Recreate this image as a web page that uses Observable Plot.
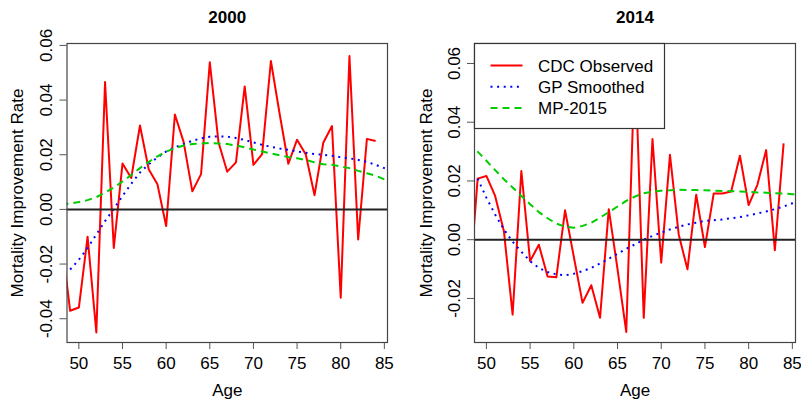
<!DOCTYPE html>
<html>
<head>
<meta charset="utf-8">
<script src="https://cdn.jsdelivr.net/npm/d3@7"></script>
<script src="https://cdn.jsdelivr.net/npm/@observablehq/plot@0.6"></script>
<style>
  body { margin: 0; background: #fff; }
  #chart { position: relative; width: 801px; height: 400px; font-family: "Liberation Sans", Arial, sans-serif; }
  #chart > svg { position: absolute; top: 0; }
</style>
</head>
<body>
<div id="chart"></div>
<script>
// Ages covered by each series
const agesObserved = [48, 49, 50, 51, 52, 53, 54, 55, 56, 57, 58, 59, 60, 61, 62, 63, 64, 65, 66,
  67, 68, 69, 70, 71, 72, 73, 74, 75, 76, 77, 78, 79, 80, 81, 82, 83, 84];
const agesSmoothed = [49, 50, 51, 52, 53, 54, 55, 56, 57, 58, 59, 60, 61, 62, 63, 64, 65, 66, 67,
  68, 69, 70, 71, 72, 73, 74, 75, 76, 77, 78, 79, 80, 81, 82, 83, 84, 85, 86];
const agesMP = [48, 49, 50, 51, 52, 53, 54, 55, 56, 57, 58, 59, 60, 61, 62, 63, 64, 65, 66, 67,
  68, 69, 70, 71, 72, 73, 74, 75, 76, 77, 78, 79, 80, 81, 82, 83, 84, 85, 86];

// Year 2000 mortality improvement rates
const observed2000 = [-0.0110, -0.0371, -0.0359, -0.0100, -0.0450, 0.0466, -0.0141, 0.0168, 0.0115,
  0.0307, 0.0147, 0.0092, -0.0061, 0.0347, 0.0247, 0.0066, 0.0129, 0.0538, 0.0245, 0.0138, 0.0172,
  0.0450, 0.0163, 0.0202, 0.0543, 0.0350, 0.0167, 0.0255, 0.0201, 0.0052, 0.0244, 0.0305, -0.0323,
  0.0561, -0.0110, 0.0258, 0.0250];
const smoothed2000 = [-0.0220, -0.0184, -0.0141, -0.0092, -0.0043, 0.0002, 0.0049, 0.0094, 0.0135,
  0.0165, 0.0190, 0.0212, 0.0227, 0.0239, 0.0251, 0.0260, 0.0266, 0.0267, 0.0266, 0.0261, 0.0254,
  0.0245, 0.0236, 0.0229, 0.0223, 0.0218, 0.0212, 0.0207, 0.0202, 0.0200, 0.0196, 0.0191, 0.0187,
  0.0181, 0.0174, 0.0163, 0.0151, 0.0138];
const mp2000 = [0.0020, 0.0021, 0.0027, 0.0034, 0.0045, 0.0061, 0.0080, 0.0102, 0.0126, 0.0151,
  0.0174, 0.0194, 0.0211, 0.0224, 0.0234, 0.0239, 0.0241, 0.0243, 0.0241, 0.0239, 0.0234, 0.0227,
  0.0219, 0.0212, 0.0205, 0.0198, 0.0192, 0.0187, 0.0181, 0.0172, 0.0165, 0.0163, 0.0157, 0.0151,
  0.0141, 0.0132, 0.0123, 0.0110, 0.0098];

// Year 2014 mortality improvement rates
const observed2014 = [-0.0180, 0.0208, 0.0217, 0.0149, 0.0030, -0.0255, 0.0234, -0.0073, -0.0017,
  -0.0125, -0.0128, 0.0100, -0.0058, -0.0215, -0.0155, -0.0266, 0.0104, -0.0100, -0.0314, 0.0630,
  -0.0266, 0.0343, -0.0078, 0.0289, 0.0018, -0.0101, 0.0153, -0.0025, 0.0157, 0.0157, 0.0164,
  0.0286, 0.0118, 0.0187, 0.0305, -0.0036, 0.0328];
const smoothed2014 = [0.0208, 0.0143, 0.0086, 0.0035, -0.0007, -0.0041, -0.0073, -0.0096, -0.0110,
  -0.0118, -0.0121, -0.0116, -0.0107, -0.0096, -0.0081, -0.0065, -0.0048, -0.0031, -0.0016, 0.0000,
  0.0013, 0.0024, 0.0035, 0.0044, 0.0052, 0.0058, 0.0064, 0.0066, 0.0069, 0.0073, 0.0077, 0.0083,
  0.0089, 0.0096, 0.0104, 0.0113, 0.0124, 0.0135];
const mp2014 = [0.0330, 0.0300, 0.0269, 0.0237, 0.0206, 0.0178, 0.0149, 0.0121, 0.0094, 0.0073,
  0.0055, 0.0044, 0.0041, 0.0047, 0.0058, 0.0075, 0.0094, 0.0113, 0.0132, 0.0147, 0.0158, 0.0164,
  0.0167, 0.0168, 0.0170, 0.0169, 0.0169, 0.0168, 0.0167, 0.0166, 0.0165, 0.0164, 0.0163, 0.0161,
  0.0160, 0.0158, 0.0157, 0.0155, 0.0154];

// Axis ticks and labels
const ageTicks = [50, 55, 60, 65, 70, 75, 80, 85];
const yTicks2000 = [-0.04, -0.02, 0.00, 0.02, 0.04, 0.06];
const yTicks2014 = [-0.02, 0.00, 0.02, 0.04, 0.06];
const seriesNames = ["CDC Observed", "GP Smoothed", "MP-2015"];
const seriesColors = ["#ff0000", "#0000ff", "#00cd00"];
const seriesDash = [null, "2,4.6", "7,5"];

const FONT = "'Liberation Sans', Arial, Helvetica, sans-serif";
const xDomain = [48.64, 85.36];

function toRows(ages, values) {
  return ages.map((age, i) => ({age, rate: values[i]}));
}

function panel({title, observed, smoothed, mp, yDomain, yTicks, width, marginLeft, marginRight, labelDx, legend}) {
  const lineStyle = {x: "age", y: "rate", strokeWidth: 2, strokeLinecap: "butt", strokeLinejoin: "round", clip: true};
  const svg = Plot.plot({
    width,
    height: 400,
    marginTop: 43,
    marginBottom: 58,
    marginLeft,
    marginRight,
    style: {fontFamily: FONT, fontSize: "17px", color: "#000", background: "transparent", overflow: "visible"},
    x: {domain: xDomain},
    y: {domain: yDomain},
    marks: [
      Plot.axisX({ticks: ageTicks, tickSize: 7, tickPadding: 7, label: null, stroke: "#555", fontSize: 17}),
      Plot.axisY({ticks: yTicks, tickFormat: d => d.toFixed(2), tickRotate: -90, tickSize: 7, tickPadding: 8,
        label: null, stroke: "#555", fontSize: 17}),
      Plot.line(toRows(agesObserved, observed), {...lineStyle, stroke: seriesColors[0]}),
      Plot.line(toRows(agesSmoothed, smoothed), {...lineStyle, stroke: seriesColors[1], strokeDasharray: seriesDash[1]}),
      Plot.line(toRows(agesMP, mp), {...lineStyle, stroke: seriesColors[2], strokeDasharray: seriesDash[2]}),
      Plot.ruleY([0], {stroke: "#222", strokeWidth: 2}),
      Plot.frame({stroke: "#444", strokeWidth: 1.2}),
      Plot.text([title], {frameAnchor: "top", dy: -26, lineAnchor: "middle", textAnchor: "middle",
        fontWeight: "bold", fontSize: 17}),
      Plot.text(["Age"], {frameAnchor: "bottom", dy: 48, lineAnchor: "middle", textAnchor: "middle", fontSize: 17}),
      Plot.text(["Mortality Improvement Rate"], {frameAnchor: "left", rotate: -90, dx: labelDx,
        lineAnchor: "middle", textAnchor: "middle", fontSize: 17})
    ]
  });

  if (legend) {
    // Boxed legend in the top-left corner of the plotting region
    const g = d3.select(svg).append("g").attr("transform", `translate(${marginLeft + 0.5},${43.5})`);
    g.append("rect").attr("width", 190).attr("height", 85)
      .attr("fill", "white").attr("stroke", "#333").attr("stroke-width", 1.2);
    seriesNames.forEach((name, i) => {
      const y = 22 + i * 21.2;
      g.append("line").attr("x1", 16).attr("x2", 48).attr("y1", y).attr("y2", y)
        .attr("stroke", seriesColors[i]).attr("stroke-width", 2)
        .attr("stroke-linecap", "butt")
        .attr("stroke-dasharray", seriesDash[i]);
      g.append("text").attr("x", 63.5).attr("y", y).attr("dy", "0.36em")
        .attr("text-anchor", "start")
        .attr("font-family", FONT).attr("font-size", 17).attr("fill", "#000").text(name);
    });
  }
  return svg;
}

const chart = document.getElementById("chart");

const left = panel({
  title: "2000", observed: observed2000, smoothed: smoothed2000, mp: mp2000,
  yDomain: [-0.0487, 0.0607], yTicks: yTicks2000,
  width: 400, marginLeft: 66.5, marginRight: 13, labelDx: -49, legend: false
});
left.style.left = "0px";
chart.appendChild(left);

const right = panel({
  title: "2014", observed: observed2014, smoothed: smoothed2014, mp: mp2014,
  yDomain: [-0.0350, 0.0668], yTicks: yTicks2014,
  width: 401, marginLeft: 74, marginRight: 6, labelDx: -48, legend: true
});
right.style.left = "400px";
chart.appendChild(right);
</script>
</body>
</html>
